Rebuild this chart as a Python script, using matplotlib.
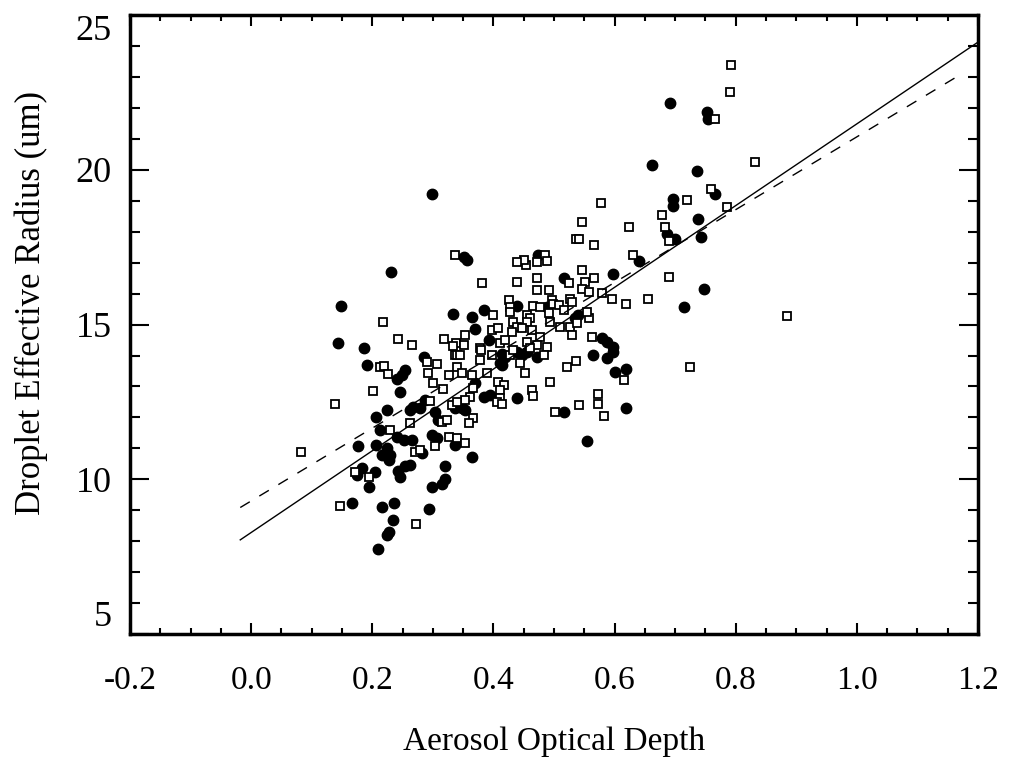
import numpy as np
import matplotlib
matplotlib.use("Agg")
import matplotlib.pyplot as plt
from matplotlib.ticker import MultipleLocator, FormatStrFormatter

plt.rcParams['font.family'] = ['Liberation Serif', 'DejaVu Serif']
plt.rcParams['axes.unicode_minus'] = False

# filled symbols (aod, r_eff)
filled_x = [0.298, 0.231, 0.148, 0.334, 0.144, 0.187,
            0.285, 0.191, 0.254, 0.249, 0.240, 0.245, 0.287, 0.268, 0.263, 0.279,
            0.224, 0.206, 0.304, 0.309, 0.212, 0.240, 0.298, 0.307, 0.337, 0.177,
            0.206, 0.252, 0.265, 0.282, 0.224, 0.216, 0.230, 0.227, 0.263, 0.254,
            0.320, 0.243, 0.246, 0.183, 0.174, 0.205, 0.194, 0.320, 0.315, 0.298,
            0.166, 0.216, 0.236, 0.294, 0.234, 0.227, 0.224, 0.210,
            0.351, 0.356, 0.474, 0.597, 0.517, 0.439, 0.488, 0.384, 0.364, 0.540,
            0.535, 0.370, 0.579, 0.587, 0.392, 0.598,
            0.414, 0.419, 0.411, 0.447, 0.439, 0.472, 0.455, 0.565, 0.587, 0.598,
            0.601, 0.619, 0.414, 0.370, 0.439, 0.384, 0.395, 0.337, 0.348, 0.353,
            0.517, 0.618, 0.364, 0.555,
            0.692, 0.752, 0.755, 0.661, 0.736, 0.765, 0.696, 0.697, 0.737, 0.687,
            0.700, 0.743, 0.640, 0.748, 0.714]
filled_y = [19.21, 16.69, 15.60, 15.34, 14.42, 14.25,
            13.96, 13.69, 13.53, 13.37, 13.23, 12.83, 12.56, 12.34, 12.24, 12.29,
            12.24, 12.02, 12.18, 11.91, 11.59, 11.37, 11.43, 11.32, 11.11, 11.07,
            11.11, 11.27, 11.27, 10.86, 11.00, 10.78, 10.78, 10.62, 10.46, 10.43,
            10.43, 10.28, 10.08, 10.35, 10.14, 10.24, 9.76, 10.00, 9.85, 9.76,
            9.22, 9.11, 9.22, 9.05, 8.68, 8.31, 8.20, 7.74,
            17.19, 17.08, 17.25, 16.65, 16.50, 15.60, 15.57, 15.47, 15.23, 15.31,
            15.20, 14.85, 14.58, 14.45, 14.50, 14.29,
            14.06, 13.96, 13.75, 14.01, 14.12, 13.96, 14.12, 14.01, 13.91, 14.12,
            13.48, 13.58, 13.69, 13.10, 12.62, 12.67, 12.72, 12.29, 12.29, 12.24,
            12.16, 12.32, 10.71, 11.24,
            22.15, 21.88, 21.66, 20.16, 19.97, 19.22, 19.06, 18.83, 18.40, 17.92,
            17.76, 17.82, 17.06, 16.16, 15.56]

# open squares
open_x = [0.336, 0.217, 0.242, 0.265, 0.319, 0.338, 0.333,
          0.337, 0.290, 0.307, 0.212, 0.220, 0.226, 0.292, 0.301, 0.327, 0.201,
          0.316, 0.139, 0.295, 0.331, 0.263, 0.315, 0.323, 0.229, 0.327, 0.304,
          0.271, 0.279, 0.083, 0.172, 0.194, 0.147, 0.272,
          0.577, 0.547, 0.537, 0.541, 0.566, 0.623, 0.485, 0.488, 0.472, 0.454,
          0.450, 0.439, 0.547, 0.566, 0.381, 0.439, 0.472, 0.524, 0.551, 0.472,
          0.492, 0.546, 0.557, 0.579, 0.596, 0.618, 0.425, 0.527, 0.530, 0.496,
          0.499, 0.428, 0.466, 0.477, 0.508, 0.516, 0.428, 0.400, 0.455, 0.461,
          0.455, 0.433, 0.439, 0.447, 0.491, 0.494, 0.557, 0.554, 0.510, 0.527,
          0.538, 0.353, 0.397, 0.408, 0.430, 0.463, 0.477, 0.530, 0.563, 0.351,
          0.411, 0.419, 0.455, 0.472, 0.488, 0.378,
          0.340, 0.345, 0.380, 0.397, 0.428, 0.444, 0.433, 0.461, 0.483, 0.521,
          0.537, 0.615, 0.494, 0.452, 0.378, 0.389, 0.340, 0.348, 0.364, 0.367,
          0.361, 0.408, 0.417, 0.411, 0.411, 0.406, 0.414, 0.463, 0.466, 0.353,
          0.340, 0.502, 0.542, 0.572, 0.572, 0.583, 0.367, 0.359, 0.340, 0.353,
          0.792, 0.790, 0.765, 0.831, 0.759, 0.719, 0.786, 0.678, 0.684, 0.690,
          0.630, 0.689, 0.655, 0.884, 0.725]
open_y = [17.24, 15.08, 14.53, 14.34, 14.53, 14.42, 14.31,
          14.01, 13.80, 13.72, 13.63, 13.67, 13.41, 13.42, 13.12, 13.37, 12.86,
          12.91, 12.45, 12.54, 12.40, 11.81, 11.86, 11.91, 11.59, 11.37, 11.07,
          10.89, 10.95, 10.87, 10.24, 10.08, 9.15, 8.55,
          18.94, 18.31, 17.77, 17.77, 17.57, 18.16, 17.25, 17.07, 17.03, 16.92,
          17.08, 17.03, 16.76, 16.50, 16.33, 16.39, 16.52, 16.33, 16.39, 16.11,
          16.11, 16.14, 16.06, 16.01, 15.84, 15.68, 15.79, 15.84, 15.74, 15.79,
          15.68, 15.57, 15.60, 15.56, 15.63, 15.47, 15.42, 15.31, 15.31, 15.20,
          15.09, 15.09, 14.93, 14.88, 15.36, 15.09, 15.20, 15.42, 14.93, 14.93,
          15.04, 14.66, 14.82, 14.88, 14.77, 14.82, 14.61, 14.66, 14.61, 14.34,
          14.39, 14.50, 14.45, 14.34, 14.29, 14.23,
          14.01, 14.01, 14.18, 14.01, 14.01, 13.75, 14.18, 14.23, 14.01, 13.64,
          13.83, 13.21, 13.16, 13.42, 13.85, 13.42, 13.64, 13.42, 13.37, 12.94,
          12.67, 13.16, 13.05, 12.89, 12.62, 12.51, 12.45, 12.89, 12.69, 12.56,
          12.51, 12.18, 12.40, 12.75, 12.43, 12.05, 11.97, 11.81, 11.32, 11.18,
          23.38, 22.52, 21.65, 20.27, 19.38, 19.02, 18.81, 18.54, 18.16, 17.71,
          17.24, 16.53, 15.84, 15.29, 13.62]

# regression lines: slope, intercept, x range
solid_fit = [13.21, 8.28]
solid_range = [-0.018, 1.2]
dashed_fit = [11.77, 9.30]
dashed_range = [-0.018, 1.176]

fig = plt.figure(figsize=(10.11, 7.62), dpi=100)
ax = fig.add_axes([0.1286, 0.168, 0.8388, 0.812])

ax.plot(filled_x, filled_y, linestyle='none', marker='o', markersize=7.5,
        color='black')
ax.plot(open_x, open_y, linestyle='none', marker='s', markersize=6,
        markerfacecolor='white', markeredgecolor='black', markeredgewidth=1.3)

xs = np.array(solid_range)
ax.plot(xs, solid_fit[0] * xs + solid_fit[1], color='black', lw=1.0)
xd = np.array(dashed_range)
ax.plot(xd, dashed_fit[0] * xd + dashed_fit[1], color='black', lw=1.0,
        dashes=(8, 8))

ax.set_xlim(-0.2, 1.2)
ax.set_ylim(5, 25)
ax.xaxis.set_major_locator(MultipleLocator(0.2))
ax.xaxis.set_minor_locator(MultipleLocator(0.05))
ax.yaxis.set_major_locator(MultipleLocator(5))
ax.yaxis.set_minor_locator(MultipleLocator(1))
ax.xaxis.set_major_formatter(FormatStrFormatter('%.1f'))

for s in ax.spines.values():
    s.set_linewidth(2.5)
ax.tick_params(axis='both', which='both', direction='in', top=True, right=True)
ax.tick_params(axis='x', which='major', length=8, width=1.5, labelsize=24, pad=23)
ax.tick_params(axis='x', which='minor', length=4, width=1.5)
ax.tick_params(axis='y', which='major', length=14, width=1.5, labelsize=26, pad=13)
ax.tick_params(axis='y', which='minor', length=7.5, width=1.5)

ax.set_xlabel('Aerosol Optical Depth', fontsize=24, labelpad=22)
ax.set_ylabel('Droplet Effective Radius (um)', fontsize=25)
ax.yaxis.set_label_coords(-0.097, 0.535)

# end labels on the y axis sit inside the frame
fig.canvas.draw()
ylo, yhi = ax.get_ylim()
for t in ax.yaxis.get_major_ticks():
    if abs(t.get_loc() - yhi) < 1e-6:
        t.label1.set_verticalalignment('top')
    elif abs(t.get_loc() - ylo) < 1e-6:
        t.label1.set_verticalalignment('bottom')

fig.savefig('out.png', dpi=100)
